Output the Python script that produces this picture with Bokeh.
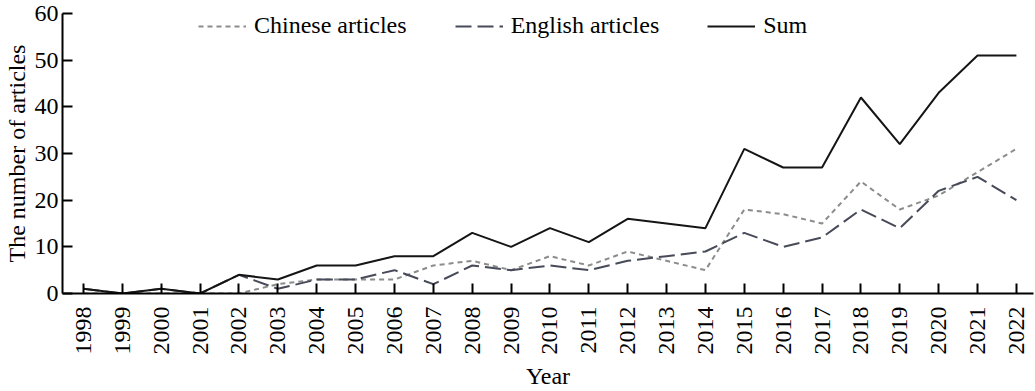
import math
from bokeh.plotting import figure
from bokeh.models import Range1d, FixedTicker, Legend, LegendItem
from bokeh.embed import file_html
from bokeh.resources import INLINE

years = list(range(1998, 2023))
chinese = [0, 0, 0, 0, 0, 2, 3, 3, 3, 6, 7, 5, 8, 6, 9, 7, 5, 18, 17, 15, 24, 18, 21, 26, 31]
english = [1, 0, 1, 0, 4, 1, 3, 3, 5, 2, 6, 5, 6, 5, 7, 8, 9, 13, 10, 12, 18, 14, 22, 25, 20]
total = [1, 0, 1, 0, 4, 3, 6, 6, 8, 8, 13, 10, 14, 11, 16, 15, 14, 31, 27, 27, 42, 32, 43, 51, 51]
y_ticks = [0, 10, 20, 30, 40, 50, 60]

FONT = "Liberation Serif"

p = figure(width=1035, height=391, output_backend="svg", toolbar_location=None,
           x_range=Range1d(1997.46, 2022.44), y_range=Range1d(0, 60),
           min_border_left=62, min_border_right=2, min_border_top=13, min_border_bottom=93)
p.outline_line_color = None
p.grid.visible = False
p.background_fill_color = "white"

r1 = p.line(years, chinese, line_color="#8c8c8c", line_width=2, line_dash="5 4")
r2 = p.line(years, english, line_color="#474a58", line_width=2, line_dash="16 6")
r3 = p.line(years, total, line_color="#151515", line_width=2)

legend = Legend(items=[LegendItem(label="Chinese articles", renderers=[r1]),
                       LegendItem(label="English articles", renderers=[r2]),
                       LegendItem(label="Sum", renderers=[r3])],
                location=(136, 254), orientation="horizontal")
legend.background_fill_alpha = 0
legend.border_line_color = None
legend.label_text_font = FONT
legend.label_text_font_size = "24px"
legend.label_text_color = "black"
legend.glyph_width = 48
legend.label_standoff = 8
legend.spacing = 48
legend.margin = 0
legend.padding = 0
p.add_layout(legend)

for ax in (p.xaxis[0], p.yaxis[0]):
    ax.axis_line_width = 2
    ax.axis_line_color = "black"
    ax.major_tick_line_width = 2
    ax.major_tick_line_color = "black"
    ax.major_tick_in = 10
    ax.major_tick_out = 0
    ax.minor_tick_line_color = None
    ax.major_label_text_font = FONT
    ax.major_label_text_font_size = "24px"
    ax.major_label_text_color = "black"
    ax.axis_label_text_font = FONT
    ax.axis_label_text_font_size = "24px"
    ax.axis_label_text_font_style = "normal"
    ax.axis_label_text_color = "black"

p.xaxis.ticker = FixedTicker(ticks=years)
p.xaxis.major_label_orientation = math.pi / 2
p.xaxis.axis_label = "Year"
p.xaxis.axis_label_standoff = 5
p.xaxis.major_label_standoff = 13

p.yaxis.ticker = FixedTicker(ticks=y_ticks)
p.yaxis.axis_label = "The number of articles"
p.yaxis.axis_label_standoff = 2
p.yaxis.major_label_standoff = 4

open("out.html", "w").write(file_html(p, INLINE))
